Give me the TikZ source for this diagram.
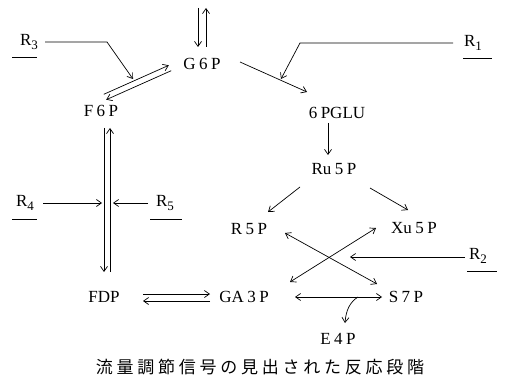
\documentclass[tikz,border=0pt]{standalone}
\usepackage{fontspec}
\setmainfont{Liberation Serif}
\newfontfamily\cjk[LetterSpace=22]{Noto Sans CJK JP}
\usetikzlibrary{arrows.meta,calc}
\newcommand{\gp}{\hspace{3.5pt}}
\newcommand{\rsub}[1]{R\raisebox{-4pt}{\fontsize{13}{13}\selectfont #1}}
\begin{document}
\begin{tikzpicture}[x=1pt,y=-1pt,line width=0.7pt,
  arr/.style={-{Straight Barb[length=5pt,width=7pt]}},
  darr/.style={{Straight Barb[length=5pt,width=7pt]}-{Straight Barb[length=5pt,width=7pt]}},
  lab/.style={font=\fontsize{17}{17}\selectfont,inner sep=1pt},
  rlab/.style={font=\fontsize{17}{17}\selectfont,inner sep=1pt},
  captext/.style={font=\cjk\fontsize{17}{17}\selectfont,inner sep=1pt}]
\useasboundingbox (0,0) rectangle (510,382);
% metabolites
\node[lab] (g6p) at (202,64) {G\gp6\gp P};
\node[lab] (f6p) at (101,111) {F\gp6\gp P};
\node[lab] (pglu) at (337,113) {6\gp PGLU};
\node[lab] (ru5p) at (334,169) {Ru\gp5\gp P};
\node[lab] (r5p) at (249,229) {R\gp5\gp P};
\node[lab] (xu5p) at (414,228) {Xu\gp5\gp P};
\node[lab] (fdp) at (104,297) {FDP};
\node[lab] (ga3p) at (244,297) {GA\gp3\gp P};
\node[lab] (s7p) at (406,297) {S\gp7\gp P};
\node[lab] (e4p) at (338,339) {E\gp4\gp P};
% regulators
\node[rlab] (r1) at (473,43) {\rsub{1}};
\node[rlab] (r2) at (478,256) {\rsub{2}};
\node[rlab] (r3) at (29,42) {\rsub{3}};
\node[rlab] (r4) at (25,203) {\rsub{4}};
\node[rlab] (r5) at (165,203) {\rsub{5}};
\draw ($(r1)+(-10,15)$) -- ($(r1)+(19,15)$);
\draw ($(r2)+(-11,15)$) -- ($(r2)+(19,15)$);
\draw ($(r3)+(-17,15)$) -- ($(r3)+(8,15)$);
\draw ($(r4)+(-13,16)$) -- ($(r4)+(12,16)$);
\draw ($(r5)+(-15,16)$) -- ($(r5)+(17,16)$);
% caption
\node[captext] (caption) at (260,367) {流量調節信号の見出された反応段階};
% top exchange of G6P
\draw[arr] ($(g6p)+(-4,-56)$) -- ($(g6p)+(-4,-17)$);
\draw[arr] ($(g6p)+(4,-17)$) -- ($(g6p)+(4,-56)$);
% G6P <-> F6P
\draw[arr] ($(f6p)+(2.8,-16.7)$) -- ($(g6p)+(-33.2,1.3)$);
\draw[arr] ($(g6p)+(-30.8,6.7)$) -- ($(f6p)+(5.2,-11.3)$);
% R3
\coordinate (r3tip) at ($(g6p)+(-69,15)$);
\draw[arr] ($(r3)+(16,0)$) -- ($(r3)+(78,0)$) -- (r3tip);
% G6P -> 6PGLU
\draw[arr] ($(g6p)+(38,-2)$) -- ($(pglu)+(-30,-21)$);
% R1
\coordinate (r1tip) at ($(pglu)+(-56,-34)$);
\draw[arr] ($(r1)+(-20,0)$) -- ($(r1)+(-173,0)$) -- (r1tip);
% 6PGLU -> Ru5P
\draw[arr] ($(pglu)+(-9,10)$) -- ($(ru5p)+(-6,-14)$);
% Ru5P -> R5P, Xu5P
\draw[arr] ($(ru5p)+(-34,18)$) -- ($(r5p)+(19,-17)$);
\draw[arr] ($(ru5p)+(36,19)$) -- ($(xu5p)+(-6,-18)$);
% cross
\draw[darr] ($(r5p)+(36,4)$) -- ($(s7p)+(-29,-13)$);
\draw[darr] ($(xu5p)+(-38,0)$) -- ($(ga3p)+(46,-15)$);
% R2
\coordinate (r2tip) at ($(ga3p)+(106,-40)$);
\draw[arr] ($(r2)+(-13,1)$) -- (r2tip);
% GA3P <-> S7P
\draw[darr] ($(ga3p)+(51,0)$) -- ($(s7p)+(-24,0)$);
\draw[arr] ($(s7p)+(-48,0)$) .. controls ($(s7p)+(-56,5)$) and ($(s7p)+(-60,13)$) .. ($(e4p)+(7,-16)$);
% FDP <-> GA3P
\draw[arr] ($(fdp)+(39,-3)$) -- ($(ga3p)+(-34,-3)$);
\draw[arr] ($(ga3p)+(-34,4)$) -- ($(fdp)+(39,4)$);
% F6P <-> FDP
\draw[arr] ($(f6p)+(3,17)$) -- ($(fdp)+(0,-25)$);
\draw[arr] ($(fdp)+(6,-25)$) -- ($(f6p)+(9,17)$);
% R4, R5
\coordinate (r4tip) at ($(fdp)+(-2,-94)$);
\coordinate (r5tip) at ($(fdp)+(9,-94)$);
\draw[arr] ($(r4)+(18,0)$) -- (r4tip);
\draw[arr] ($(r5)+(-17,0)$) -- (r5tip);
\end{tikzpicture}
\end{document}
